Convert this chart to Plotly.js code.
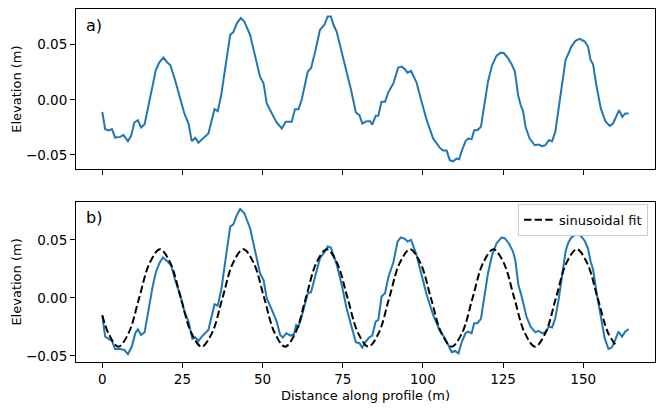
<!DOCTYPE html>
<html>
<head>
<meta charset="utf-8">
<script src="https://cdn.plot.ly/plotly-3.0.1.min.js"></script>
<style>html,body{margin:0;padding:0;background:#fff;}#chart{width:665px;height:411px;}</style>
</head>
<body>
<div id="chart"></div>
<script>
// Panel a) raw profile
var distA = [0, 0.9, 2, 3, 4, 5.6, 6.6, 8, 9, 10, 11.1, 12.1, 13.2, 14.4, 15.7, 16.7, 17.8, 19.1, 20.2, 21.2, 22.7, 24.3, 25.6, 26.9, 27.9, 29, 30, 31.6, 33.1, 35, 36, 37.1, 38.5, 39.9, 40.9, 42, 43.2, 44.3, 46.1, 47.7, 49.2, 50.3, 51.3, 52.9, 54.4, 56, 57.2, 59.1, 60.1, 61.2, 62.2, 64.1, 65.1, 66.4, 67.9, 69.3, 70.3, 71.3, 72.1, 73.1, 74.7, 76.2, 77.6, 79.1, 80.2, 81.1, 82.5, 83.5, 84.2, 85.3, 86.1, 87.1, 88.2, 89.2, 90.8, 92.3, 93.4, 94.4, 95.2, 96.3, 98, 99.6, 101.2, 103.2, 105.3, 106.3, 107.4, 108.4, 109.4, 110.5, 111.3, 112.2, 113.3, 114.1, 115.2, 116, 117, 118.1, 119.1, 120.3, 121.6, 123, 124.3, 125.3, 126.6, 127.8, 128.7, 129.7, 130.5, 131.3, 132, 133.3, 134.9, 136.1, 137.2, 138.2, 139.3, 140.3, 141.3, 142.4, 143.4, 144.5, 145.3, 146.3, 147.6, 148.9, 150.5, 151.5, 152.3, 153.1, 154.1, 155.5, 156.9, 158.3, 159.3, 160.3, 161.2, 162.2, 163.1, 164.2];
var elevA = [-0.0109, -0.0266, -0.0278, -0.0266, -0.0342, -0.0336, -0.032, -0.0375, -0.0327, -0.0206, -0.0185, -0.0251, -0.0221, -0.0048, 0.0134, 0.027, 0.034, 0.0382, 0.034, 0.0315, 0.0179, 0.0013, -0.0124, -0.0215, -0.0375, -0.0345, -0.0388, -0.0345, -0.0306, -0.0085, -0.0103, 0.0043, 0.0315, 0.0588, 0.0613, 0.0695, 0.074, 0.0709, 0.0588, 0.0406, 0.0209, 0.0149, -0.0033, -0.0124, -0.0206, -0.026, -0.02, -0.02, -0.0085, -0.0085, 0, 0.0255, 0.0285, 0.0436, 0.0634, 0.0679, 0.0755, 0.0755, 0.0679, 0.0618, 0.0436, 0.024, 0.0088, -0.0115, -0.0139, -0.0215, -0.0194, -0.0194, -0.0224, -0.0145, -0.0145, -0.0018, -0.0018, 0.0067, 0.0149, 0.0291, 0.03, 0.0276, 0.0245, 0.0261, 0.0158, -0.0018, -0.0185, -0.0351, -0.0436, -0.046, -0.046, -0.0548, -0.0557, -0.0533, -0.0539, -0.0457, -0.0375, -0.0351, -0.0357, -0.0275, -0.0275, -0.0245, -0.0048, 0.0164, 0.0315, 0.04, 0.0427, 0.0421, 0.0376, 0.0315, 0.0255, 0.0043, -0.0048, -0.0109, -0.0245, -0.0351, -0.0412, -0.0406, -0.0421, -0.0412, -0.0366, -0.0375, -0.0291, -0.0078, 0.0134, 0.0361, 0.0412, 0.0482, 0.0534, 0.0552, 0.0527, 0.0482, 0.0361, 0.0321, 0.0134, -0.0078, -0.0194, -0.0236, -0.0215, -0.0145, -0.0094, -0.0155, -0.0124, -0.0124];

// Panel b) detrended profile
var distB = [0, 0.9, 2, 3, 4, 5.6, 6.9, 8, 9.2, 10.3, 11.1, 12.1, 13.2, 14.4, 15.7, 16.7, 17.8, 18.9, 20.2, 21.5, 22.7, 24.3, 25.6, 26.9, 28.1, 29, 30, 31.3, 33.1, 35, 36, 37.1, 38.5, 39.9, 40.9, 42, 43, 44.3, 46.1, 47.7, 49.2, 50.3, 51.3, 52.9, 54.4, 55.5, 56.3, 57.4, 58.7, 59.8, 60.5, 61.2, 62.2, 64.1, 65.1, 66.4, 67.9, 69.3, 70.3, 71.3, 72.1, 73.1, 74.7, 76.2, 77.6, 79.1, 80.2, 81.1, 82, 83.2, 84.2, 85.3, 86.1, 87.1, 88.2, 89.2, 90.8, 92.1, 93.1, 94.4, 95.2, 96.3, 98, 99.6, 101.2, 103.2, 105.3, 106.9, 107.9, 109, 110, 111.1, 112.1, 113.3, 114.1, 115.2, 116, 117, 118.1, 119.1, 120.3, 121.6, 123, 124.5, 125.5, 126.8, 128.1, 128.8, 129.8, 130.7, 131.5, 132.3, 133.6, 135.1, 136.1, 137.2, 138.2, 139.3, 140.3, 141.3, 142.4, 143.4, 144.5, 145.3, 146.3, 147.9, 149.2, 150.5, 151.5, 152.3, 153.1, 154.1, 155.5, 156.7, 157.9, 158.9, 160, 161, 162.1, 163.1, 164.2];
var elevB = [-0.0152, -0.0333, -0.0353, -0.037, -0.044, -0.044, -0.0448, -0.0485, -0.0419, -0.0304, -0.027, -0.0319, -0.0296, -0.0089, 0.0098, 0.0222, 0.0299, 0.0348, 0.0319, 0.0279, 0.0155, 0.0026, -0.0117, -0.0203, -0.0353, -0.0341, -0.037, -0.0324, -0.0276, -0.0054, -0.0066, 0.0069, 0.0342, 0.0615, 0.0635, 0.0716, 0.0767, 0.073, 0.0601, 0.0414, 0.0213, 0.0155, -0.0003, -0.0103, -0.0203, -0.0319, -0.0341, -0.0304, -0.0324, -0.0313, -0.0233, -0.0247, -0.016, 0.004, 0.0049, 0.0184, 0.0342, 0.0394, 0.0443, 0.0434, 0.0371, 0.029, 0.0112, -0.0089, -0.0233, -0.0382, -0.039, -0.0428, -0.0382, -0.0341, -0.0324, -0.0203, -0.019, 0.0012, 0.004, 0.0176, 0.0308, 0.0486, 0.0521, 0.0509, 0.0486, 0.05, 0.0371, 0.0198, 0.0026, -0.0147, -0.0284, -0.0347, -0.0405, -0.0468, -0.0457, -0.0477, -0.038, -0.0304, -0.029, -0.0304, -0.0218, -0.0218, -0.0181, -0.0003, 0.0213, 0.0371, 0.0472, 0.0521, 0.0515, 0.0472, 0.04, 0.0328, 0.0112, 0.0026, -0.006, -0.016, -0.0247, -0.0296, -0.0284, -0.0304, -0.0296, -0.0247, -0.0255, -0.0175, -0.0003, 0.0184, 0.04, 0.0472, 0.0521, 0.0549, 0.0538, 0.0491, 0.0428, 0.0316, 0.0245, 0.0058, -0.0175, -0.0347, -0.044, -0.0428, -0.0362, -0.029, -0.0333, -0.029, -0.0267];

// Sinusoidal fit, read at peaks, troughs, crossings and midpoints
var distFit = [0, 2, 5, 8.25, 11.5, 14.75, 18, 21.25, 24.5, 27.75, 31, 34.25, 37.5, 40.75, 44, 47.25, 50.5, 53.75, 57, 60.25, 63.5, 66.75, 70, 73.25, 76.5, 79.75, 83, 86.25, 89.5, 92.75, 96, 99.25, 102.5, 105.75, 109, 112.25, 115.5, 118.75, 122, 125.25, 128.5, 131.75, 135, 138.25, 141.5, 144.75, 148, 151.25, 154.5, 157.75, 160];
var elevFit = [-0.015, -0.031, -0.042, -0.030, 0, 0.030, 0.042, 0.030, 0, -0.030, -0.042, -0.030, 0, 0.030, 0.042, 0.030, 0, -0.030, -0.042, -0.030, 0, 0.030, 0.042, 0.030, 0, -0.030, -0.042, -0.030, 0, 0.030, 0.042, 0.030, 0, -0.030, -0.042, -0.030, 0, 0.030, 0.042, 0.030, 0, -0.030, -0.042, -0.030, 0, 0.030, 0.042, 0.030, 0, -0.030, -0.040];

var xTicks = [0, 25, 50, 75, 100, 125, 150];
var xTickText = ['0', '25', '50', '75', '100', '125', '150'];
var yTicks = [-0.05, 0, 0.05];
var yTickText = ['\u22120.05', '0.00', '0.05'];
var panelLabels = ['a)', 'b)'];
var fitName = 'sinusoidal fit';
var xLabel = 'Distance along profile (m)';
var yLabel = 'Elevation (m)';

var FONT = 'DejaVu Sans, Liberation Sans, sans-serif';
var BLUE = '#1f77b4';

var traces = [
  {x: distA, y: elevA, xaxis: 'x2', yaxis: 'y2', mode: 'lines', line: {color: BLUE, width: 2}, showlegend: false, hoverinfo: 'skip'},
  {x: distB, y: elevB, xaxis: 'x', yaxis: 'y', mode: 'lines', line: {color: BLUE, width: 2}, showlegend: false, hoverinfo: 'skip'},
  {x: distFit, y: elevFit, xaxis: 'x', yaxis: 'y', mode: 'lines', name: fitName, line: {color: 'black', width: 2, dash: '7.4px,3.2px', shape: 'spline', smoothing: 1}, showlegend: true, hoverinfo: 'skip'}
];

function xax(showLabels, anchor) {
  var a = {
    domain: [0, 1], anchor: anchor, range: [-8.2, 172.4],
    tickmode: 'array', tickvals: xTicks, ticktext: xTickText, showticklabels: showLabels,
    ticks: 'outside', ticklen: 5, tickwidth: 1, tickcolor: 'black',
    showline: true, mirror: true, linecolor: 'black', linewidth: 1,
    showgrid: false, zeroline: false,
    tickfont: {family: FONT, size: 13.5, color: 'black'}
  };
  if (showLabels) a.title = {text: xLabel, font: {family: FONT, size: 13, color: 'black'}, standoff: 4};
  return a;
}
function yax(domain, range, anchor) {
  return {
    domain: domain, anchor: anchor, range: range,
    tickmode: 'array', tickvals: yTicks, ticktext: yTickText,
    ticks: 'outside', ticklen: 5, tickwidth: 1, tickcolor: 'black',
    showline: true, mirror: true, linecolor: 'black', linewidth: 1,
    showgrid: false, zeroline: false,
    tickfont: {family: FONT, size: 13.5, color: 'black'},
    title: {text: yLabel, font: {family: FONT, size: 13, color: 'black'}, standoff: 1}
  };
}

var layout = {
  width: 665, height: 411,
  margin: {l: 76, r: 10, t: 9, b: 49, pad: 0},
  paper_bgcolor: 'white', plot_bgcolor: 'white',
  font: {family: FONT, color: 'black'},
  xaxis: xax(true, 'y'),
  xaxis2: xax(false, 'y2'),
  yaxis: yax([0, 0.4536], [-0.0552, 0.0828], 'x'),
  yaxis2: yax([0.5464, 1], [-0.0628, 0.0822], 'x2'),
  showlegend: true,
  legend: {x: 0.988, xanchor: 'right', y: 0.403, yanchor: 'middle', bgcolor: 'white', bordercolor: '#cccccc', borderwidth: 1, font: {family: FONT, size: 13, color: 'black'}, itemwidth: 30},
  annotations: [
    {text: panelLabels[0], xref: 'x2 domain', yref: 'y2 domain', x: 0.013, y: 0.9, xanchor: 'left', yanchor: 'middle', showarrow: false, font: {family: FONT, size: 16, color: 'black'}},
    {text: panelLabels[1], xref: 'x domain', yref: 'y domain', x: 0.013, y: 0.9, xanchor: 'left', yanchor: 'middle', showarrow: false, font: {family: FONT, size: 16, color: 'black'}}
  ]
};

Plotly.newPlot('chart', traces, layout, {staticPlot: true, displayModeBar: false});
</script>
</body>
</html>
